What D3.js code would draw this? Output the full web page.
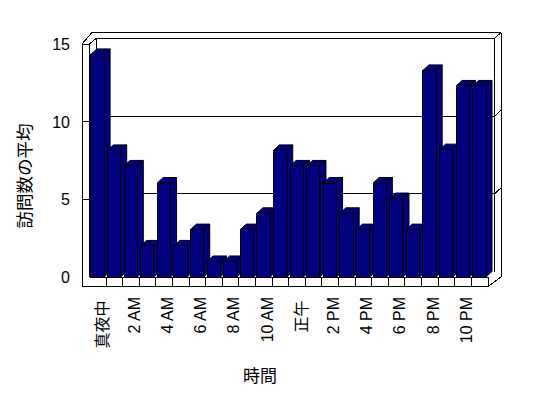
<!DOCTYPE html>
<html>
<head>
<meta charset="utf-8">
<script src="https://cdn.jsdelivr.net/npm/d3@7"></script>
<style>
  html, body { margin: 0; padding: 0; background: #fff; }
  svg { display: block; }
  text { font-family: "Liberation Sans", "Noto Sans CJK JP", sans-serif; fill: #000; }
</style>
</head>
<body>
<svg id="chart" width="548" height="398"></svg>
<script>
// ---- data ----
const categories = ["0","1","2","3","4","5","6","7","8","9","10","11","12","13","14","15","16","17","18","19","20","21","22","23"];
const values = [14.33, 8.15, 7.15, 2.0, 6.05, 2.0, 3.05, 1.0, 1.0, 3.05, 4.1, 8.15, 7.15, 7.15, 6.05, 4.1, 3.05, 6.05, 5.05, 3.05, 13.3, 8.2, 12.3, 12.3];
const xTickCategories = ["0","2","4","6","8","10","12","14","16","18","20","22"];
const xTickLabels = ["真夜中","2 AM","4 AM","6 AM","8 AM","10 AM","正午","2 PM","4 PM","6 PM","8 PM","10 PM"];
const yTicks = [0, 5, 10, 15];
const gridValues = [5, 10];
const yTitle = "訪問数の平均";
const xTitle = "時間";

// ---- layout ----
const svg = d3.select("#chart");
const frontLeft = 89.5, frontRight = 488, outerLeft = 82;
const floorTop = 277, floorBottom = 286.5, topFront = 44;
const wallDx = 6.5, wallDy = -5.5;   // depth of chart (front -> back wall)
const backDx = 5, backDy = -6;       // thickness of back wall
const barDx = 6, barDy = -5.5;       // depth of each bar
const navy = "#000080";

const x = d3.scaleBand().domain(categories).range([frontLeft, frontRight]).padding(0);
const y = d3.scaleLinear().domain([0, 15]).range([floorTop, topFront]);

const lines = svg.append("g").attr("stroke", "#000").attr("stroke-width", 1)
  .attr("shape-rendering", "crispEdges").attr("fill", "none");
function line(x1, y1, x2, y2) {
  lines.append("line").attr("x1", x1).attr("y1", y1).attr("x2", x2).attr("y2", y2);
}

const bxL = frontLeft + wallDx, bxR = frontRight + wallDx;   // back wall inner face
const byTop = y(15) + wallDy, byBot = y(0) + wallDy;
const oxL = outerLeft + wallDx + backDx - 1.5, oxR = bxR + backDx + 1.5;
const oyTop = byTop + backDy;

// back wall
line(oxL, oyTop, oxR, oyTop);
line(oxR, oyTop, oxR, floorTop);
line(bxR, byTop, oxR, oyTop);
line(bxL, byTop, bxR, byTop);
line(bxR, byTop, bxR, byBot);
line(bxL, byTop, bxL, byBot);
gridValues.forEach(v => {
  const yy = y(v) + wallDy;
  line(bxL, yy, bxR, yy);
  line(bxR, yy, oxR, yy + backDy);
});

// side wall
line(outerLeft, topFront, outerLeft, floorBottom);
line(frontLeft, topFront, frontLeft, floorTop);
line(outerLeft, topFront, frontLeft, topFront);
line(outerLeft, topFront, oxL, oyTop);
line(frontLeft, topFront, bxL, byTop);
gridValues.forEach(v => line(outerLeft, y(v), frontLeft, y(v)));

// bars
const barG = svg.append("g").attr("stroke", "#000").attr("stroke-width", 1)
  .attr("fill", navy).attr("stroke-linejoin", "miter");
const bw = x.bandwidth();
categories.forEach((c, i) => {
  const v = values[i];
  const x0 = x(c) + bw * 0.08, x1 = x0 + bw * 0.8;
  const yt = y(v), y0 = y(0);
  const g = barG.append("g");
  g.append("polygon").attr("points", [[x1, yt], [x1 + barDx, yt + barDy], [x1 + barDx, y0 + barDy], [x1, y0]].join(" "));
  g.append("polygon").attr("points", [[x0, yt], [x0 + barDx, yt + barDy], [x1 + barDx, yt + barDy], [x1, yt]].join(" "));
  g.append("rect").attr("x", x0).attr("y", yt).attr("width", x1 - x0).attr("height", y0 - yt)
    .attr("shape-rendering", "crispEdges");
});

// floor
const floor = svg.append("g").attr("stroke", "#000").attr("stroke-width", 1)
  .attr("shape-rendering", "crispEdges").attr("fill", "none");
function fline(x1, y1, x2, y2) {
  floor.append("line").attr("x1", x1).attr("y1", y1).attr("x2", x2).attr("y2", y2);
}
fline(frontLeft, floorTop, frontRight, floorTop);
fline(outerLeft, floorBottom, frontRight, floorBottom);
fline(frontRight, floorTop, frontRight, floorBottom);
fline(frontRight, floorBottom, oxR, floorTop);
categories.slice(1).forEach(c => fline(x(c), floorTop, x(c), floorBottom));

// y axis labels
const yAxis = d3.axisLeft(y).tickValues(yTicks).tickSize(0).tickPadding(0);
const yg = svg.append("g").attr("transform", "translate(70,0)").call(yAxis);
yg.select(".domain").remove();
yg.selectAll("text").attr("font-size", 16).attr("font-family", null)
  .attr("x", 0).attr("dy", "0.35em").attr("text-anchor", "end");

// x axis labels
const labelMap = new Map(xTickCategories.map((c, i) => [c, xTickLabels[i]]));
const xAxis = d3.axisBottom(x).tickValues(xTickCategories).tickSize(0)
  .tickFormat(c => labelMap.get(c));
const xg = svg.append("g").attr("transform", `translate(0,${floorBottom})`).call(xAxis);
xg.select(".domain").remove();
xg.selectAll("text").attr("font-size", 16).attr("font-family", null)
  .attr("y", 0).attr("dy", null).attr("text-anchor", "end")
  .attr("transform", d => {
    const cjk = /[^\x00-\x7f]/.test(labelMap.get(d));
    return cjk ? `translate(10,${14}) rotate(-90)` : `translate(8.7,${10.5}) rotate(-90)`;
  });

// titles
svg.append("text").attr("transform", "translate(31,176) rotate(-90)")
  .attr("text-anchor", "middle").attr("font-size", 17.5).text(yTitle);
svg.append("text").attr("x", 260).attr("y", 382)
  .attr("text-anchor", "middle").attr("font-size", 17).text(xTitle);
</script>
</body>
</html>
